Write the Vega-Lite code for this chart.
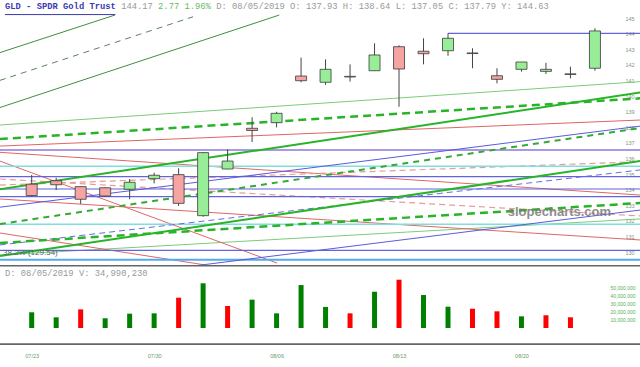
{
  "$schema": "https://vega.github.io/schema/vega-lite/v6.json",
  "padding": 0,
  "spacing": 0,
  "background": "white",
  "config": {"view": {"stroke": null}, "axis": {"title": null, "labelOverlap": false, "labelBound": false, "labelFlush": false, "ticks": false, "tickSize": 0, "domain": false, "grid": false}},
  "datasets": {
    "candles": [
      {"i": 0, "date": "07/23", "open": 134.35, "high": 134.94, "low": 133.56, "close": 133.62, "volume": 19400000, "chg": "up"},
      {"i": 1, "date": "07/24", "open": 134.57, "high": 134.76, "low": 133.97, "close": 134.31, "volume": 13200000, "chg": "up"},
      {"i": 2, "date": "07/25", "open": 134.19, "high": 134.22, "low": 133.08, "close": 133.38, "volume": 23000000, "chg": "down"},
      {"i": 3, "date": "07/26", "open": 134.12, "high": 134.15, "low": 133.55, "close": 133.59, "volume": 12000000, "chg": "up"},
      {"i": 4, "date": "07/29", "open": 134.02, "high": 134.68, "low": 133.38, "close": 134.47, "volume": 17700000, "chg": "up"},
      {"i": 5, "date": "07/30", "open": 134.70, "high": 135.08, "low": 134.40, "close": 134.92, "volume": 18100000, "chg": "up"},
      {"i": 6, "date": "07/31", "open": 134.96, "high": 135.37, "low": 132.95, "close": 133.12, "volume": 37400000, "chg": "down"},
      {"i": 7, "date": "08/01", "open": 132.33, "high": 136.40, "low": 132.26, "close": 136.37, "volume": 55200000, "chg": "up"},
      {"i": 8, "date": "08/02", "open": 135.32, "high": 136.58, "low": 135.30, "close": 135.83, "volume": 27200000, "chg": "down"},
      {"i": 9, "date": "08/05", "open": 137.93, "high": 138.64, "low": 137.05, "close": 137.79, "volume": 34990230, "chg": "up"},
      {"i": 10, "date": "08/06", "open": 138.29, "high": 138.99, "low": 137.99, "close": 138.89, "volume": 18100000, "chg": "up"},
      {"i": 11, "date": "08/07", "open": 141.28, "high": 142.46, "low": 140.88, "close": 140.98, "volume": 53000000, "chg": "up"},
      {"i": 12, "date": "08/08", "open": 140.88, "high": 142.35, "low": 140.71, "close": 141.71, "volume": 26000000, "chg": "up"},
      {"i": 13, "date": "08/09", "open": 141.26, "high": 142.03, "low": 140.92, "close": 141.22, "volume": 18100000, "chg": "down"},
      {"i": 14, "date": "08/12", "open": 141.62, "high": 143.38, "low": 141.60, "close": 142.63, "volume": 44800000, "chg": "up"},
      {"i": 15, "date": "08/13", "open": 143.16, "high": 143.25, "low": 139.31, "close": 141.73, "volume": 59600000, "chg": "down"},
      {"i": 16, "date": "08/14", "open": 142.87, "high": 143.70, "low": 142.03, "close": 142.71, "volume": 40700000, "chg": "up"},
      {"i": 17, "date": "08/15", "open": 142.90, "high": 144.02, "low": 142.58, "close": 143.70, "volume": 26300000, "chg": "up"},
      {"i": 18, "date": "08/16", "open": 142.76, "high": 143.06, "low": 141.78, "close": 142.72, "volume": 23800000, "chg": "down"},
      {"i": 19, "date": "08/19", "open": 141.30, "high": 141.78, "low": 140.81, "close": 141.07, "volume": 20600000, "chg": "down"},
      {"i": 20, "date": "08/20", "open": 141.71, "high": 142.18, "low": 141.56, "close": 142.18, "volume": 14400000, "chg": "up"},
      {"i": 21, "date": "08/21", "open": 141.58, "high": 142.13, "low": 141.41, "close": 141.71, "volume": 15700000, "chg": "down"},
      {"i": 22, "date": "08/22", "open": 141.42, "high": 141.88, "low": 141.13, "close": 141.38, "volume": 13200000, "chg": "down"},
      {"i": 23, "date": "08/23", "open": 141.78, "high": 144.34, "low": 141.62, "close": 144.17, "volume": null, "chg": "up"}
    ],
    "lines": [
      {"id": "L1", "g": "fanSolid", "i": -1.3, "p": 142.78}, {"id": "L1", "g": "fanSolid", "i": 3.40, "p": 145.19},
      {"id": "L3", "g": "fanSolid", "i": -1.3, "p": 139.26}, {"id": "L3", "g": "fanSolid", "i": 10.11, "p": 145.19},
      {"id": "L2", "g": "fanDash", "i": -1.3, "p": 141.0}, {"id": "L2", "g": "fanDash", "i": 6.59, "p": 145.08},
      {"id": "L4", "g": "thinGreen", "i": -1.3, "p": 138.14}, {"id": "L4", "g": "thinGreen", "i": 24.85, "p": 140.92},
      {"id": "L12", "g": "thinGreen", "i": -1.3, "p": 129.81}, {"id": "L12", "g": "thinGreen", "i": 24.85, "p": 132.12},
      {"id": "L6", "g": "thickGreen", "i": -1.3, "p": 134.02}, {"id": "L6", "g": "thickGreen", "i": 24.85, "p": 140.22},
      {"id": "L10", "g": "thickGreen", "i": -1.3, "p": 129.74}, {"id": "L10", "g": "thickGreen", "i": 24.85, "p": 135.83},
      {"id": "L5", "g": "thickGreenDash", "i": -1.3, "p": 137.24}, {"id": "L5", "g": "thickGreenDash", "i": 24.85, "p": 139.85},
      {"id": "L11", "g": "thickGreenDash", "i": -1.3, "p": 130.58}, {"id": "L11", "g": "thickGreenDash", "i": 24.85, "p": 133.14},
      {"id": "L9", "g": "greenDash", "i": -1.3, "p": 131.79}, {"id": "L9", "g": "greenDash", "i": 24.85, "p": 137.95},
      {"id": "L7", "g": "red", "i": -1.3, "p": 136.79}, {"id": "L7", "g": "red", "i": 24.85, "p": 138.46},
      {"id": "R1", "g": "red", "i": -1.3, "p": 136.39}, {"id": "R1", "g": "red", "i": 24.85, "p": 133.65},
      {"id": "R2", "g": "red", "i": -1.3, "p": 135.83}, {"id": "R2", "g": "red", "i": 10.02, "p": 129.29},
      {"id": "R3", "g": "red", "i": -1.3, "p": 131.22}, {"id": "R3", "g": "red", "i": 7.08, "p": 129.17},
      {"id": "R4", "g": "red", "i": -1.3, "p": 133.40}, {"id": "R4", "g": "red", "i": 24.85, "p": 130.77},
      {"id": "D1", "g": "pinkDash", "i": -1.3, "p": 134.29}, {"id": "D1", "g": "pinkDash", "i": 24.85, "p": 135.79},
      {"id": "D2", "g": "pinkDash", "i": -1.3, "p": 134.68}, {"id": "D2", "g": "pinkDash", "i": 24.85, "p": 132.31},
      {"id": "L8", "g": "blue", "i": -1.3, "p": 132.87}, {"id": "L8", "g": "blue", "i": 24.85, "p": 138.07},
      {"id": "L13", "g": "blue", "i": -1.3, "p": 127.55}, {"id": "L13", "g": "blue", "i": 24.85, "p": 132.69},
      {"id": "BD", "g": "blueDash", "i": -1.3, "p": 130.45}, {"id": "BD", "g": "blueDash", "i": 24.85, "p": 135.26},
      {"id": "H1", "g": "hBlue", "i": 17, "p": 144.02}, {"id": "H1", "g": "hBlue", "i": 24.85, "p": 144.02},
      {"id": "H4", "g": "hBlue", "i": -1.3, "p": 134.83}, {"id": "H4", "g": "hBlue", "i": 24.85, "p": 134.83},
      {"id": "H5", "g": "hBlue", "i": -1.3, "p": 134.04}, {"id": "H5", "g": "hBlue", "i": 24.85, "p": 134.04},
      {"id": "H6", "g": "hBlue", "i": -1.3, "p": 133.55}, {"id": "H6", "g": "hBlue", "i": 24.85, "p": 133.55},
      {"id": "H8", "g": "hBlue", "i": -1.3, "p": 130.11}, {"id": "H8", "g": "hBlue", "i": 24.85, "p": 130.11},
      {"id": "H2", "g": "lavender", "i": -1.3, "p": 136.54}, {"id": "H2", "g": "lavender", "i": 24.85, "p": 136.54},
      {"id": "H3", "g": "cyan", "i": -1.3, "p": 135.49}, {"id": "H3", "g": "cyan", "i": 24.85, "p": 135.49},
      {"id": "H7", "g": "cyan", "i": -1.3, "p": 131.78}, {"id": "H7", "g": "cyan", "i": 24.85, "p": 131.78},
      {"id": "HF", "g": "fib", "i": -1.3, "p": 129.5}, {"id": "HF", "g": "fib", "i": 24.85, "p": 129.5}
    ]
  },
  "vconcat": [
    {
      "width": 640,
      "height": 265,
      "encoding": {
        "x": {"field": "i", "type": "quantitative", "scale": {"domain": [-1.294, 24.84], "nice": false, "zero": false, "padding": 0}, "axis": null},
        "y": {"field": "p", "type": "quantitative", "title": null, "scale": {"domain": [129.167, 146.154], "nice": false, "zero": false, "padding": 0},
           "axis": {"orient": "right", "offset": -15, "values": [130,131,132,133,134,135,136,137,138,139,140,141,142,143,144,145], "labelPadding": 0, "labelFontSize": 5.5, "labelColor": "#7f977f", "labelFont": "Liberation Sans"}}
      },
      "layer": [
        {"data": {"name": "lines"}, "transform": [{"filter": "datum.g == 'fanSolid'"}], "mark": {"type": "line", "clip": true, "color": "#3f8f3f", "strokeWidth": 1},
         "encoding": {"detail": {"field": "id"}}},
        {"data": {"name": "lines"}, "transform": [{"filter": "datum.g == 'fanDash'"}], "mark": {"type": "line", "clip": true, "color": "#5f7f5f", "strokeWidth": 1, "strokeDash": [6, 5]},
         "encoding": {"detail": {"field": "id"}}},
        {"data": {"name": "lines"}, "transform": [{"filter": "datum.g == 'thinGreen'"}], "mark": {"type": "line", "clip": true, "color": "#7ccc7c", "strokeWidth": 1},
         "encoding": {"detail": {"field": "id"}}},
        {"data": {"name": "lines"}, "transform": [{"filter": "datum.g == 'red'"}], "mark": {"type": "line", "clip": true, "color": "#e06666", "strokeWidth": 1},
         "encoding": {"detail": {"field": "id"}}},
        {"data": {"name": "lines"}, "transform": [{"filter": "datum.g == 'pinkDash'"}], "mark": {"type": "line", "clip": true, "color": "#e89a9a", "strokeWidth": 1.2, "strokeDash": [6, 4]},
         "encoding": {"detail": {"field": "id"}}},
        {"data": {"name": "lines"}, "transform": [{"filter": "datum.g == 'hBlue'"}], "mark": {"type": "line", "clip": true, "color": "#6363dd", "strokeWidth": 1.2},
         "encoding": {"detail": {"field": "id"}}},
        {"data": {"name": "lines"}, "transform": [{"filter": "datum.g == 'lavender'"}], "mark": {"type": "line", "clip": true, "color": "#a89ae8", "strokeWidth": 2},
         "encoding": {"detail": {"field": "id"}}},
        {"data": {"name": "lines"}, "transform": [{"filter": "datum.g == 'cyan'"}], "mark": {"type": "line", "clip": true, "color": "#80dede", "strokeWidth": 1.5},
         "encoding": {"detail": {"field": "id"}}},
        {"data": {"name": "lines"}, "transform": [{"filter": "datum.g == 'fib'"}], "mark": {"type": "line", "clip": true, "color": "#55aaee", "strokeWidth": 2},
         "encoding": {"detail": {"field": "id"}}},
        {"data": {"name": "lines"}, "transform": [{"filter": "datum.g == 'blue'"}], "mark": {"type": "line", "clip": true, "color": "#5a5ae0", "strokeWidth": 1},
         "encoding": {"detail": {"field": "id"}}},
        {"data": {"name": "lines"}, "transform": [{"filter": "datum.g == 'blueDash'"}], "mark": {"type": "line", "clip": true, "color": "#6a6ae8", "strokeWidth": 1, "strokeDash": [6, 4]},
         "encoding": {"detail": {"field": "id"}}},
        {"data": {"name": "lines"}, "transform": [{"filter": "datum.g == 'greenDash'"}], "mark": {"type": "line", "clip": true, "color": "#33aa33", "strokeWidth": 2, "strokeDash": [6, 5]},
         "encoding": {"detail": {"field": "id"}}},
        {"data": {"name": "lines"}, "transform": [{"filter": "datum.g == 'thickGreen'"}], "mark": {"type": "line", "clip": true, "color": "#28b428", "strokeWidth": 2},
         "encoding": {"detail": {"field": "id"}}},
        {"data": {"name": "lines"}, "transform": [{"filter": "datum.g == 'thickGreenDash'"}], "mark": {"type": "line", "clip": true, "color": "#28b428", "strokeWidth": 2.5, "strokeDash": [8, 5]},
         "encoding": {"detail": {"field": "id"}}},
        {"data": {"name": "candles"}, "mark": {"type": "rule", "color": "#444444", "strokeWidth": 1},
         "encoding": {"y": {"field": "low", "type": "quantitative", "title": null}, "y2": {"field": "high"}}},
        {"data": {"name": "candles"}, "mark": {"type": "bar", "orient": "vertical", "size": 11, "stroke": "#3a3a3a", "strokeWidth": 0.8},
         "encoding": {"y": {"field": "open", "type": "quantitative", "title": null}, "y2": {"field": "close"},
           "fill": {"condition": {"test": "datum.close >= datum.open", "value": "#98ee98"}, "value": "#f5a3a3"}}},
        {"data": {"values": [{"t": "GLD - SPDR Gold Trust", "i": -1.09, "p": 145.78}]}, "mark": {"type": "text", "align": "left", "baseline": "middle", "font": "Liberation Mono", "fontSize": 8.8, "fontWeight": "bold", "color": "#3a3ab0"},
         "encoding": {"text": {"field": "t"}}},
        {"data": {"values": [{"i": -1.09, "i2": 3.42, "p": 145.22}]}, "mark": {"type": "rule", "color": "#3a3ab0", "strokeWidth": 1},
         "encoding": {"x2": {"field": "i2"}}},
        {"data": {"values": [{"t": "144.17", "i": 3.654, "p": 145.78}, {"t": "D: 08/05/2019 O: 137.93 H: 138.64 L: 137.05 C: 137.79 Y: 144.63", "i": 7.533, "p": 145.78}]}, "mark": {"type": "text", "align": "left", "baseline": "middle", "font": "Liberation Mono", "fontSize": 8.8, "color": "#9a9a9a"},
         "encoding": {"text": {"field": "t"}}},
        {"data": {"values": [{"t": "2.77 1.96%", "i": 5.161, "p": 145.78}]}, "mark": {"type": "text", "align": "left", "baseline": "middle", "font": "Liberation Mono", "fontSize": 8.8, "color": "#66bb66"},
         "encoding": {"text": {"field": "t"}}},
        {"data": {"values": [{"t": "38.2% (129.54)", "i": -1.17, "p": 129.94}]}, "mark": {"type": "text", "align": "left", "baseline": "middle", "font": "Liberation Sans", "fontSize": 8, "color": "#556070"},
         "encoding": {"text": {"field": "t"}}},
        {"data": {"values": [{"t": "slopecharts.com", "i": 21.55, "p": 132.58}]}, "mark": {"type": "text", "align": "center", "baseline": "middle", "font": "Liberation Sans", "fontSize": 13, "fontWeight": "bold", "color": "#7a7a7a", "opacity": 0.85},
         "encoding": {"text": {"field": "t"}}}
      ]
    },
    {
      "width": 640,
      "height": 80,
      "encoding": {
        "x": {"field": "i", "type": "quantitative", "scale": {"domain": [-1.294, 24.84], "nice": false, "zero": false, "padding": 0},
          "axis": {"values": [0, 5, 10, 15, 20], "labelExpr": "['07/23','07/30','08/06','08/13','08/20'][datum.value / 5]", "labelPadding": 8, "labelFontSize": 5.5, "labelColor": "#6a9a6a", "labelFont": "Liberation Sans"}},
        "y": {"field": "volume", "type": "quantitative", "title": null, "scale": {"domain": [-20987654, 77777778], "nice": false, "zero": false, "padding": 0},
          "axis": {"orient": "right", "offset": -30, "values": [10000000, 20000000, 30000000, 40000000, 50000000], "format": ",d", "labelPadding": 0, "labelFontSize": 5, "labelColor": "#55b055", "labelFont": "Liberation Sans"}}
      },
      "layer": [
        {"data": {"name": "candles"}, "mark": {"type": "bar", "orient": "vertical", "size": 5},
         "encoding": {"y2": {"datum": 0},
           "color": {"field": "chg", "type": "nominal", "scale": {"domain": ["up", "down"], "range": ["#008000", "#ff0000"]}, "legend": null}}},
        {"data": {"values": [{"t": "D: 08/05/2019 V: 34,990,230", "i": -1.09, "volume": 67900000}]}, "mark": {"type": "text", "align": "left", "baseline": "middle", "font": "Liberation Mono", "fontSize": 8.8, "color": "#9a9a9a"},
         "encoding": {"text": {"field": "t"}}},
        {"data": {"values": [{"i": -1.3, "i2": 24.85, "volume": 77000000}, {"i": -1.3, "i2": 24.85, "volume": -20000000}]}, "mark": {"type": "rule", "clip": true, "color": "#666666", "strokeWidth": 1.8},
         "encoding": {"x2": {"field": "i2"}}}
      ]
    }
  ]
}
